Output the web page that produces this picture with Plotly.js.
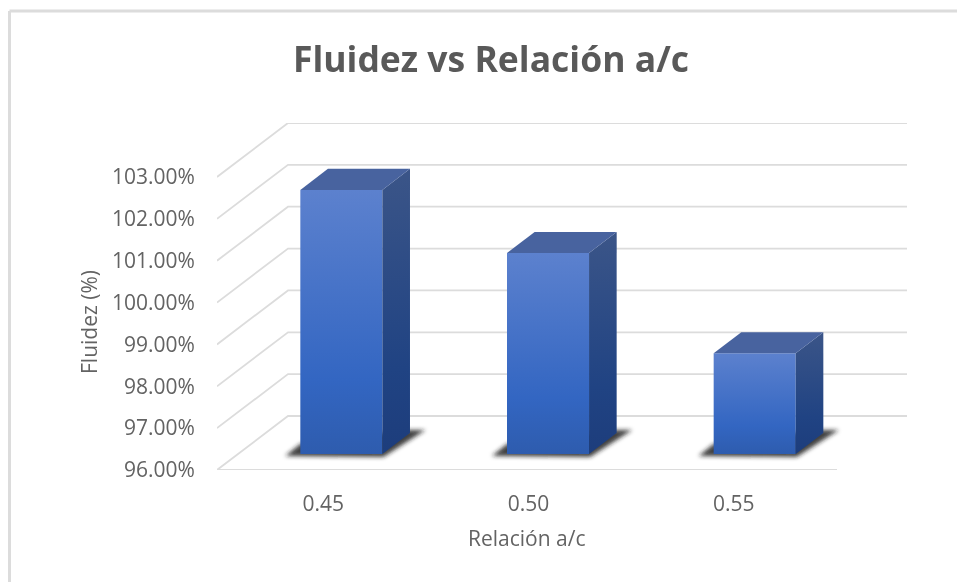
<!DOCTYPE html>
<html>
<head>
<meta charset="utf-8">
<script src="https://cdn.plot.ly/plotly-3.0.1.min.js"></script>
<style>html,body{margin:0;padding:0;background:#fff}#chart{width:957px;height:582px;filter:blur(0.4px)}</style>
</head>
<body>
<div id="chart"></div>
<script>
// ---- data ----
const categories = ['0.45', '0.50', '0.55'];
const fluidez = [102.31, 100.80, 98.41];
const yTicks = [96, 97, 98, 99, 100, 101, 102, 103];
const yTickLabels = ['96.00%', '97.00%', '98.00%', '99.00%', '100.00%', '101.00%', '102.00%', '103.00%'];

// ---- geometry of the oblique projection, in pixels of the frame ----
const L = 217, R = 907, T = 123, B = 470;
const PXU = 206.67, PYU = 41.86;              // pixels per category, pixels per percent
const yMin = yTicks[0];
const wallDX = 71 / PXU, wallDY = 54 / PYU;   // floor depth in axis units
const barFrontF = 0.296, barBackF = 0.685;    // depth fraction of bar faces
const barW = 0.397;
const xMax = (R - L) / PXU, yMax = yMin + (B - T) / PYU;

function proj(cx, v, f) { return [cx + f * wallDX, v + f * wallDY]; }

const greys = '#dcdcdc';
const shapes = [];
// chart-area frame (left and top edges only are visible)
const px = x => (x - L) / (R - L), py = y => (B - y) / (B - T);
shapes.push({type:'line', xref:'paper', yref:'paper', x0:px(9.5), x1:px(957), y0:py(11), y1:py(11), line:{color:'#dcdcdc', width:3}, layer:'below'});
shapes.push({type:'line', xref:'paper', yref:'paper', x0:px(9.5), x1:px(9.5), y0:py(11), y1:py(582), line:{color:'#dcdcdc', width:3}, layer:'below'});
// gridlines running along the side wall and the back wall
yTicks.forEach(v => {
  const a = proj(0, v, 0), b = proj(0, v, 1);
  shapes.push({type:'path', xref:'x', yref:'y', layer:'below', line:{color:greys, width:1.8},
    path:`M${a[0]},${a[1]} L${b[0]},${b[1]} L${xMax},${b[1]}`});
});
// front edge of the floor
shapes.push({type:'line', xref:'x', yref:'y', layer:'below', x0:0, x1:categories.length, y0:yMin, y1:yMin, line:{color:greys, width:1.8}});

const traces = [];
const shadowStart = shapes.length;
categories.forEach((c, i) => {
  const xl = i + 0.5 - barW / 2;
  const [fx, fy] = proj(xl, yMin, barFrontF);
  const w = barW;
  const sx = 1 / PXU, sy = 1 / PYU;
  shapes.push({type:'path', xref:'x', yref:'y', layer:'below', fillcolor:'rgba(30,30,30,0.85)', line:{width:0},
    path:`M${fx - 15*sx},${fy - 2*sy} L${fx + w + 1*sx},${fy - 3*sy} L${fx + w + 43*sx},${fy + 24*sy} L${fx + w + 22*sx},${fy + 24*sy} L${fx},${fy + 10*sy} Z`});
});

// side and top faces
categories.forEach((c, i) => {
  const v = fluidez[i];
  const xl = i + 0.5 - barW / 2, xr = i + 0.5 + barW / 2;
  const a = proj(xr, yMin, barFrontF), b = proj(xr, yMin, barBackF), d = proj(xr, v, barFrontF), e = proj(xr, v, barBackF);
  traces.push({type:'scatter', mode:'lines', x:[a[0], b[0], e[0], d[0], a[0]], y:[a[1], b[1], e[1], d[1], a[1]],
    fill:'toself', fillcolor:'#2a4a86', line:{width:0}, hoverinfo:'skip', showlegend:false, name:'side ' + c});
  const g = proj(xl, v, barFrontF), h = proj(xl, v, barBackF);
  traces.push({type:'scatter', mode:'lines', x:[g[0], h[0], e[0], d[0], g[0]], y:[g[1], h[1], e[1], d[1], g[1]],
    fill:'toself', fillcolor:'#48639f', line:{width:0}, hoverinfo:'skip', showlegend:false, name:'top ' + c});
});
// front faces
const lift = barFrontF * wallDY;
traces.unshift({type:'bar',
  x: categories.map((c, i) => i + 0.5 + barFrontF * wallDX),
  y: fluidez.map(v => v - yMin),
  base: fluidez.map(() => yMin + lift),
  width: barW,
  marker:{color:'#3f6fc6', line:{width:0}},
  customdata: categories, hovertemplate:'%{customdata}: %{y}<extra></extra>', showlegend:false, name:'Fluidez'});

const family = '"Open Sans", "Noto Sans", sans-serif';
const tickFont = {family:family, size:21, color:'#636363'};
const layout = {
  width:957, height:582, showlegend:false,
  paper_bgcolor:'#fff', plot_bgcolor:'rgba(0,0,0,0)',
  margin:{l:L, r:957 - R, t:T, b:582 - B, pad:0},
  title:{text:'<b>Fluidez vs Relación a/c</b>', x:491/957, y:1 - 60/582, xanchor:'center', yanchor:'middle',
    font:{family:family, size:35.5, color:'#595959'}},
  xaxis:{range:[0, xMax], tickmode:'array', tickvals:categories.map((c, i) => i + 0.5 + (2 - i) * 1.5 / PXU), ticktext:categories,
    showgrid:false, zeroline:false, showline:false, ticks:'outside', ticklen:15, tickcolor:'rgba(0,0,0,0)', tickfont:tickFont, automargin:false},
  yaxis:{range:[yMin, yMax], tickmode:'array', tickvals:yTicks, ticktext:yTickLabels,
    showgrid:false, zeroline:false, showline:false, ticks:'outside', ticklen:17, tickcolor:'rgba(0,0,0,0)', tickfont:tickFont, automargin:false},
  annotations:[
    {text:'Relación a/c', xref:'paper', yref:'paper', x:px(526.5), y:py(538), showarrow:false, xanchor:'center', yanchor:'middle',
      font:{family:family, size:21, color:'#636363'}},
    {text:'Fluidez (%)', xref:'paper', yref:'paper', x:px(89), y:py(322), showarrow:false, textangle:-90, xanchor:'center', yanchor:'middle',
      font:{family:family, size:21, color:'#636363'}}
  ],
  shapes: shapes
};

Plotly.newPlot('chart', traces, layout, {displayModeBar:false, responsive:false}).then(() => {
  const svg = document.querySelector('#chart .main-svg');
  const NS = 'http://www.w3.org/2000/svg';
  let defs = svg.querySelector('defs');
  function grad(id, stops) {
    const g = document.createElementNS(NS, 'linearGradient');
    g.setAttribute('id', id); g.setAttribute('x1', '0'); g.setAttribute('y1', '0'); g.setAttribute('x2', '0'); g.setAttribute('y2', '1');
    stops.forEach(s => { const st = document.createElementNS(NS, 'stop'); st.setAttribute('offset', s[0]); st.setAttribute('stop-color', s[1]); g.appendChild(st); });
    defs.appendChild(g);
  }
  grad('frontGrad', [[0, '#5c81ce'], [0.72, '#3366c2'], [1, '#2e5cae']]);
  grad('sideGrad', [[0, '#3b5588'], [0.7, '#204383'], [1, '#1d3d7c']]);
  const f = document.createElementNS(NS, 'filter');
  f.setAttribute('id', 'soft'); f.setAttribute('x', '-20%'); f.setAttribute('y', '-40%'); f.setAttribute('width', '140%'); f.setAttribute('height', '180%');
  const b = document.createElementNS(NS, 'feGaussianBlur'); b.setAttribute('stdDeviation', '2'); f.appendChild(b); defs.appendChild(f);

  document.querySelectorAll('#chart .bars .point path').forEach(p => { p.style.fill = 'url(#frontGrad)'; });
  document.querySelectorAll('#chart .js-fill').forEach((p) => {
    if (p.style.fill.replace(/\s/g, '') === 'rgb(42,74,134)') p.style.fill = 'url(#sideGrad)';
  });
  for (let i = shadowStart; i < shapes.length; i++) {
    const p = document.querySelector(`#chart path[data-index="${i}"]`);
    if (p) p.setAttribute('filter', 'url(#soft)');
  }
});
</script>
</body>
</html>
